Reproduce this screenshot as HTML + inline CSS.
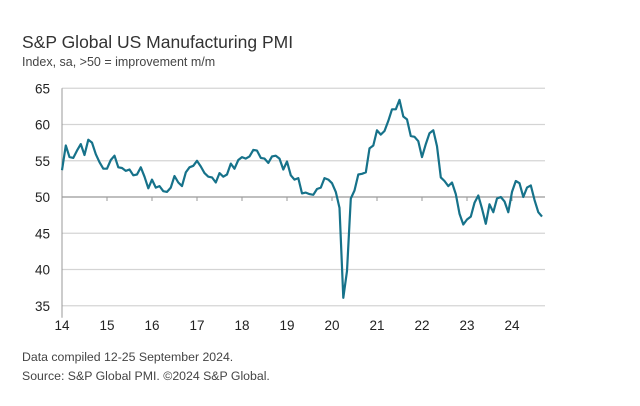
<!DOCTYPE html>
<html><head><meta charset="utf-8"><style>
body{margin:0;background:#fff;font-family:"Liberation Sans",sans-serif;}
svg{display:block}
</style></head><body>
<svg width="640" height="406" viewBox="0 0 640 406">
<text x="22" y="48" font-size="17.5" fill="#333">S&amp;P Global US Manufacturing PMI</text>
<text x="22" y="66" font-size="12.5" fill="#444">Index, sa, &gt;50 = improvement m/m</text>
<g id="grid"></g>
<g id="yt"></g>
<g id="xt"></g>
<path id="line" fill="none" stroke="#16728a" stroke-width="2.2" stroke-linejoin="round"/>
<text x="22" y="361" font-size="12.3" fill="#444">Data compiled 12-25 September 2024.</text>
<text x="22" y="380" font-size="12.3" fill="#444">Source: S&amp;P Global PMI. ©2024 S&amp;P Global.</text>
</svg>
<script>
const yTicks=[35,40,45,50,55,60,65];
const yearLabels=["14","15","16","17","18","19","20","21","22","23","24"];
const startYear=2014;
const pmi=[53.7,57.1,55.5,55.4,56.4,57.3,55.8,57.9,57.5,55.9,54.8,53.9,
53.9,55.1,55.7,54.1,54.0,53.6,53.8,53.0,53.1,54.1,52.8,51.2,
52.4,51.3,51.5,50.8,50.7,51.3,52.9,52.0,51.5,53.4,54.1,54.3,
55.0,54.2,53.3,52.8,52.7,52.0,53.3,52.8,53.1,54.6,53.9,55.1,
55.5,55.3,55.6,56.5,56.4,55.4,55.3,54.7,55.6,55.7,55.3,53.8,
54.9,53.0,52.4,52.6,50.5,50.6,50.4,50.3,51.1,51.3,52.6,52.4,
51.9,50.7,48.5,36.1,39.8,49.8,50.9,53.1,53.2,53.4,56.7,57.1,
59.2,58.6,59.1,60.5,62.1,62.1,63.4,61.1,60.7,58.4,58.3,57.7,
55.5,57.3,58.8,59.2,57.0,52.7,52.2,51.5,52.0,50.4,47.7,46.2,
46.9,47.3,49.2,50.2,48.4,46.3,49.0,47.9,49.8,50.0,49.4,47.9,
50.7,52.2,51.9,50.0,51.3,51.6,49.6,47.9,47.3];
const X0=62,MW=3.75,Y50=197,PU=7.25,XR=545;
const x=i=>X0+i*MW;
const y=v=>Y50-(v-50)*PU;
const NS="http://www.w3.org/2000/svg";
function mk(t,a,p){const e=document.createElementNS(NS,t);for(const k in a)e.setAttribute(k,a[k]);p.appendChild(e);return e;}
const grid=document.getElementById('grid'),yt=document.getElementById('yt'),xt=document.getElementById('xt');
yTicks.forEach(v=>{
 const l=mk('line',{x1:X0,x2:XR,y1:y(v),y2:y(v),stroke:v===50?'#999':'#d4d4d4','stroke-width':1.2},grid);
 
 
 const t=mk('text',{x:50,y:y(v)+5,'text-anchor':'end','font-size':13.5,fill:'#222'},yt);
 t.textContent=v;
 
 
});
const ax=mk('line',{x1:X0,x2:X0,y1:y(65),y2:y(35)+12,stroke:'#999','stroke-width':1},grid);


yearLabels.forEach((lab,k)=>{
 const xx=x(k*12);
 const tk=mk('line',{x1:xx,x2:xx,y1:Y50,y2:Y50+4,stroke:'#999'},grid);
 
 
 const t=mk('text',{x:xx,y:330,'text-anchor':'middle','font-size':13.5,fill:'#222'},xt);
 t.textContent=lab;
 
 
});
document.getElementById('line').setAttribute('d',pmi.map((v,i)=>(i?'L':'M')+x(i).toFixed(1)+','+y(v).toFixed(1)).join(''));
</script>
</body></html>
